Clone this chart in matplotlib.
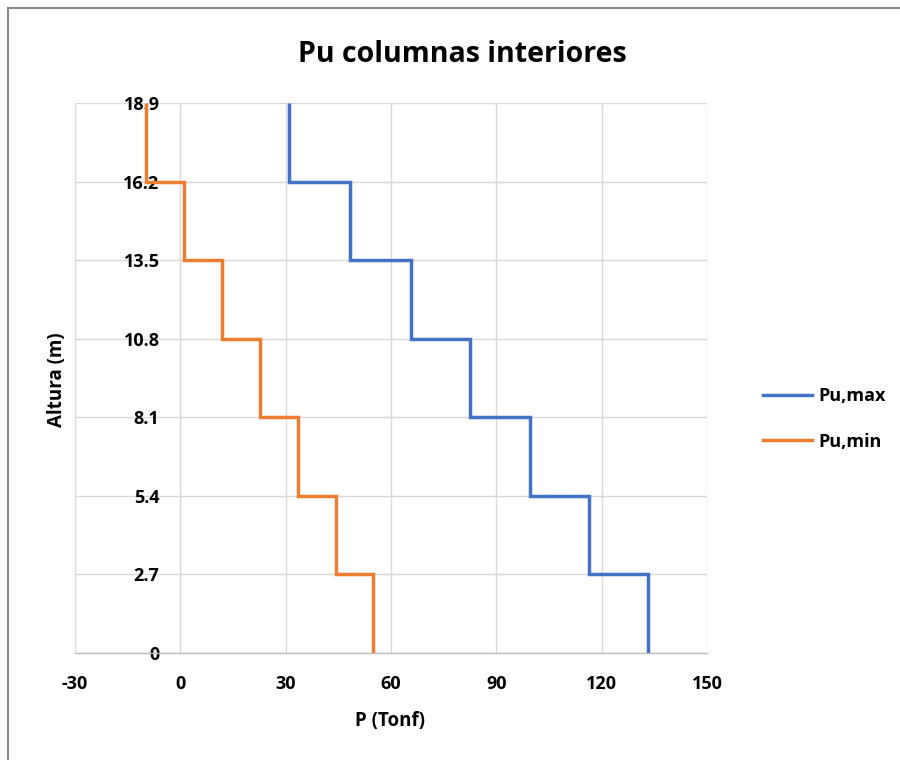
import matplotlib
matplotlib.use("Agg")
import matplotlib.pyplot as plt
from matplotlib.patches import Rectangle

# Story levels (m) and factored axial loads per story (Tonf), bottom to top
heights = [0, 2.7, 5.4, 8.1, 10.8, 13.5, 16.2, 18.9]
pu_max = [133.3, 116.5, 99.7, 82.6, 65.6, 48.2, 30.9]
pu_min = [55.0, 44.2, 33.6, 22.8, 12.0, 1.1, -9.9]
x_ticks = [-30, 0, 30, 60, 90, 120, 150]
y_labels = ["0", "2.7", "5.4", "8.1", "10.8", "13.5", "16.2", "18.9"]

FONT = ["Open Sans", "DejaVu Sans"]
plt.rcParams["font.family"] = FONT

fig = plt.figure(figsize=(9, 7.6), dpi=100)
fig.patch.set_facecolor("white")

# outer chart frame
fig.add_artist(Rectangle((8 / 900, -0.05), 1.1, 1 - 8 / 760 + 0.05,
                         transform=fig.transFigure, fill=False,
                         edgecolor="#8c8c8c", linewidth=1.5))

ax = fig.add_axes([75 / 900, 1 - 653 / 760, 632 / 900, 550 / 760])

ax.stairs(pu_max, heights, orientation="horizontal", baseline=None,
          color="#4472C4", linewidth=2.5, label="Pu,max", zorder=3)
ax.stairs(pu_min, heights, orientation="horizontal", baseline=None,
          color="#ED7D31", linewidth=2.5, label="Pu,min", zorder=3)

ax.set_xlim(-30, 150)
ax.set_ylim(0, 18.9)
ax.set_xticks(x_ticks)
ax.set_xticklabels([str(v) for v in x_ticks])
ax.set_yticks(heights)
ax.set_yticklabels(y_labels)

ax.grid(True, color="#d9d9d9", linewidth=1.0, zorder=0)
ax.set_axisbelow(True)

for s in ["top", "right"]:
    ax.spines[s].set_visible(False)
ax.spines["left"].set_position(("data", 0))
ax.spines["left"].set_visible(False)
ax.spines["bottom"].set_color("#bfbfbf")
ax.spines["bottom"].set_linewidth(1.0)

ax.tick_params(axis="both", length=0, labelsize=13)
ax.tick_params(axis="y", pad=15)
ax.tick_params(axis="x", pad=16)
for lab in ax.get_xticklabels() + ax.get_yticklabels():
    lab.set_fontweight("bold")

fig.text(390 / 900, 1 - 721 / 760, "P (Tonf)", fontsize=13.5,
         fontweight="bold", ha="center", va="center")
fig.text(57 / 900, 1 - 380 / 760, "Altura (m)", rotation=90, fontsize=13.5,
         fontweight="bold", ha="center", va="center")
fig.text(462 / 900, 1 - 55 / 760, "Pu columnas interiores", fontsize=20.5,
         fontweight="bold", ha="center", va="center")

leg = fig.legend(loc="center left", bbox_to_anchor=(747 / 900, 1 - 419 / 760),
                 frameon=False, handlelength=2.7, handletextpad=0.35,
                 labelspacing=1.5, prop={"family": FONT, "weight": "bold", "size": 13})

fig.savefig("out.png", dpi=100, facecolor="white")
